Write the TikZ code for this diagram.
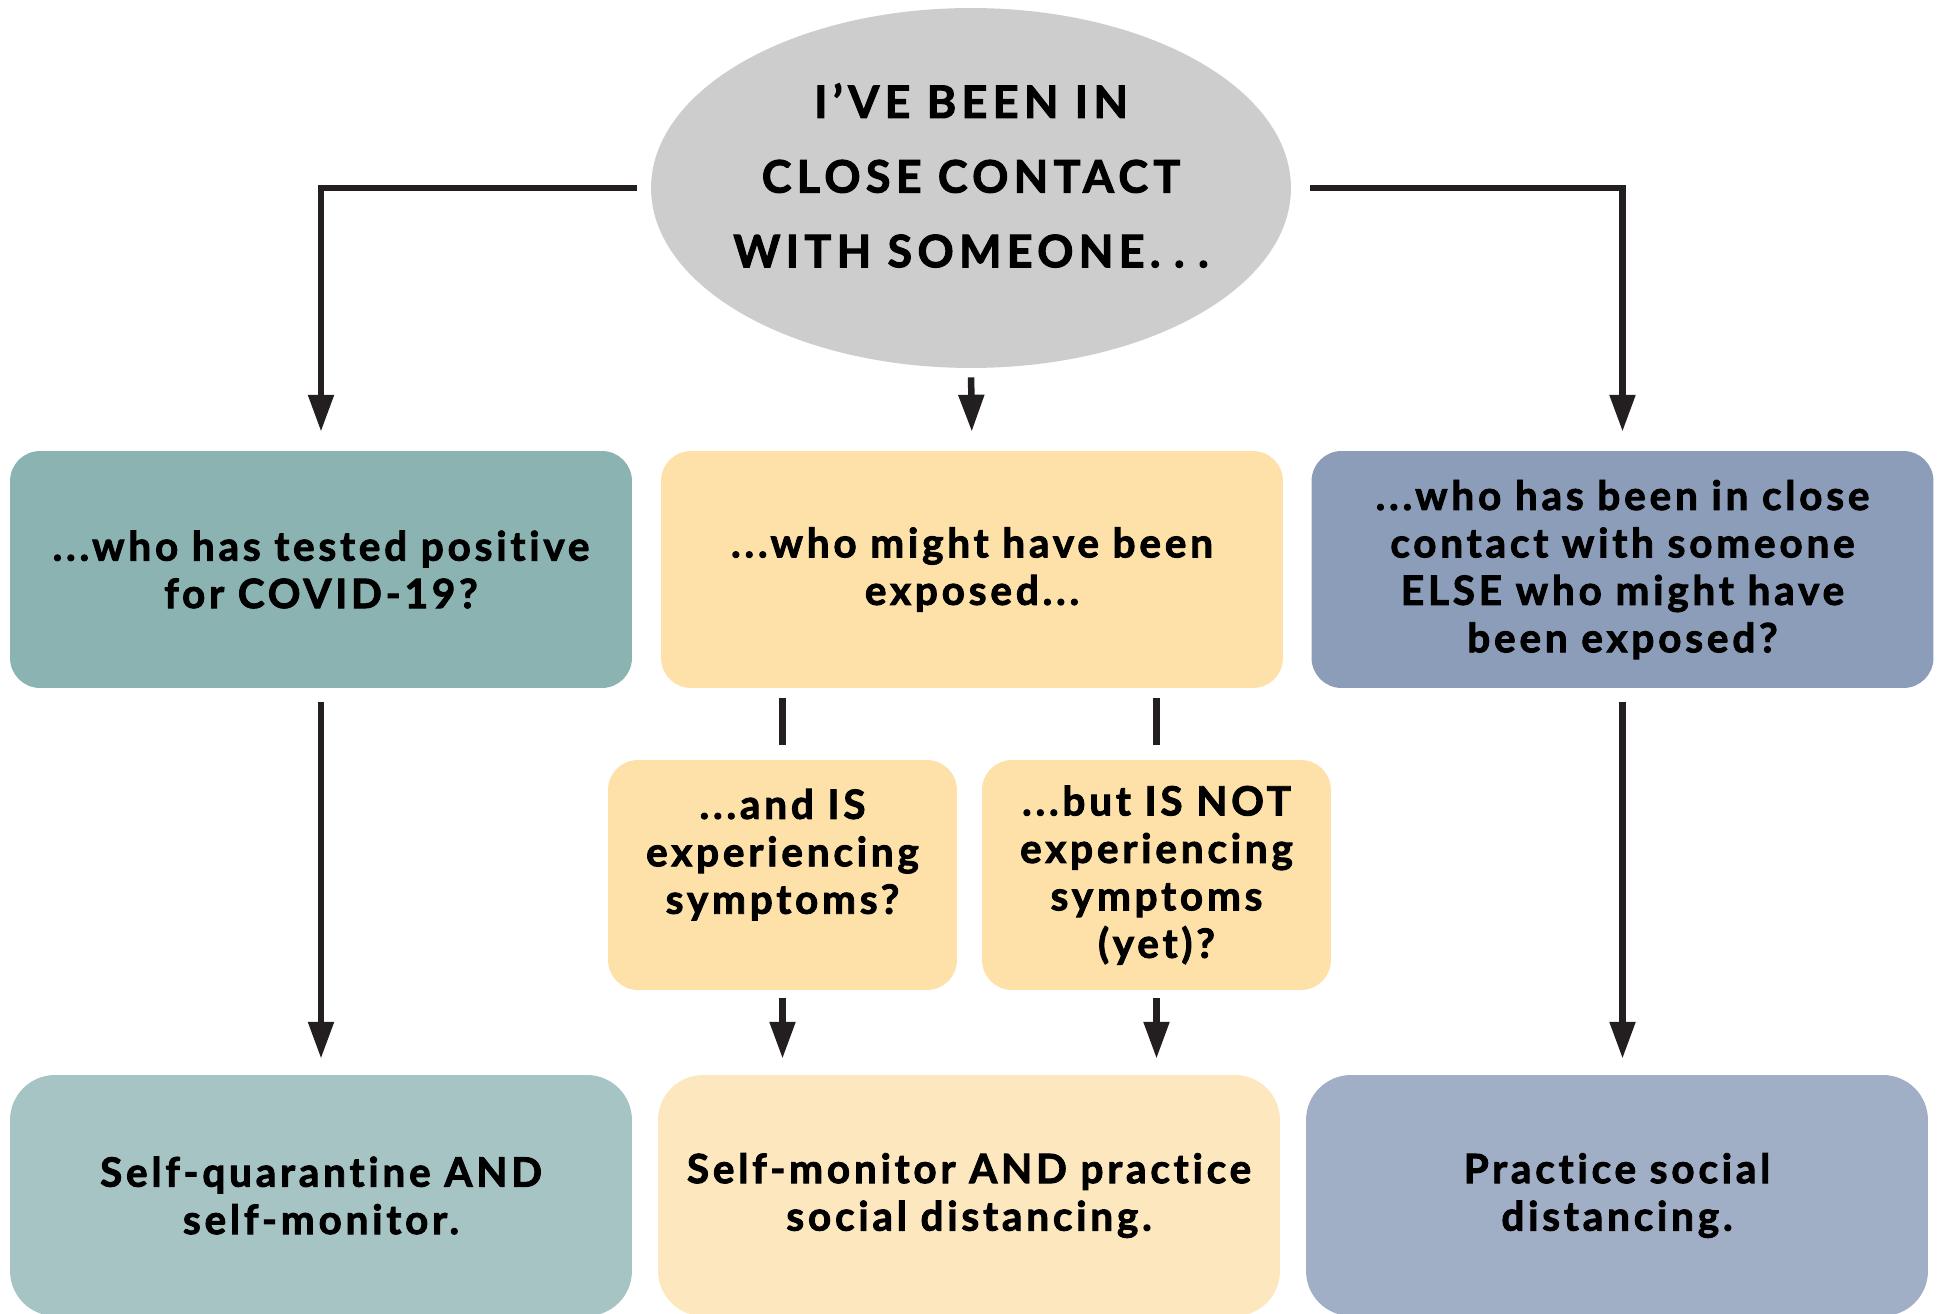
\documentclass[tikz,border=0pt]{standalone}
\usepackage{fontspec}
\setmainfont{Lato}[BoldFeatures={FakeBold=2.2}]
\newfontfamily\capsfont{Lato}[LetterSpace=12,Ligatures=NoCommon,BoldFeatures={FakeBold=2.2}]
\newfontfamily\boxfont{Lato}[LetterSpace=9.5,Ligatures=NoCommon,BoldFeatures={FakeBold=2.2}]
\usetikzlibrary{arrows.meta}
\usetikzlibrary{shapes.geometric}

\definecolor{ellgray}{HTML}{CDCDCD}
\definecolor{tealtop}{HTML}{8AB3B1}
\definecolor{tealbot}{HTML}{A5C4C3}
\definecolor{sandtop}{HTML}{FDE1A9}
\definecolor{sandbot}{HTML}{FDE7BE}
\definecolor{bluetop}{HTML}{8C9DB9}
\definecolor{bluebot}{HTML}{A0AEC6}
\definecolor{ink}{HTML}{231F20}

\tikzset{
  qbox/.style={rectangle, rounded corners=0.6cm, minimum width=12.44cm,
    minimum height=4.74cm, align=center, inner sep=0pt,
    font=\boxfont\bfseries\fontsize{23}{27}\selectfont},
  subbox/.style={qbox, minimum width=6.98cm, minimum height=4.6cm},
  actbox/.style={qbox, rounded corners=0.9cm, minimum height=4.82cm},
  flow/.style={draw=ink, line width=3.7pt},
  flowarrow/.style={flow, -{Triangle[length=21pt,width=14pt]}},
}

\begin{document}
\begin{tikzpicture}[x=0.02cm, y=-0.02cm]
  \useasboundingbox [fill=white] (0,0) rectangle (1947,1314);

  \node [ellipse, fill=ellgray, minimum width=12.8cm, minimum height=7.2cm,
    inner sep=0pt] (start) at (971,188) {};
  \node [align=center, font=\capsfont\bfseries\fontsize{25.5}{42.5}\selectfont]
    (starttext) at ([yshift=0.25cm]start.center)
    {I’VE BEEN IN\\CLOSE CONTACT\\WITH SOMEONE.\hspace{0.3em}.\hspace{0.3em}.};

  % first row
  \node [qbox, fill=tealtop] (positive) at (321,569.5)
    {...who has tested positive\\for COVID-19?};
  \node [qbox, fill=sandtop] (exposed) at (972,569.5)
    {...who might have been\\exposed...};
  \node [qbox, fill=bluetop] (else) at (1622.5,569.5)
    {...who has been in close\\contact with someone\\ELSE who might have\\been exposed?};

  % second row
  \node [subbox, fill=sandtop] (sick) at (782.5,875)
    {...and IS\\experiencing\\symptoms?\\\mbox{}};
  \node [subbox, fill=sandtop] (healthy) at (1156.5,875)
    {...but IS NOT\\experiencing\\symptoms\\(yet)?};

  % actions
  \node [actbox, fill=tealbot] (quarantine) at (321,1195.5)
    {Self-quarantine AND\\self-monitor.};
  \node [actbox, fill=sandbot] (monitor) at (969,1195.5)
    {Self-monitor AND practice\\social distancing.};
  \node [actbox, fill=bluebot] (distance) at (1617,1195.5)
    {Practice social\\distancing.};

  \coordinate (lstart) at ([xshift=-0.28cm]start.west);
  \coordinate (rstart) at ([xshift=0.38cm]start.east);

  \draw [flowarrow, shorten >=0.38cm] (lstart) -| (positive.north);
  \draw [flowarrow, shorten >=0.38cm] (rstart) -| (else.north);
  \draw [flowarrow, shorten <=0.18cm, shorten >=0.38cm] (start.south) -- (exposed.north);

  \draw [flowarrow, shorten <=0.28cm, shorten >=0.32cm] (positive.south) -- (quarantine.north);
  \draw [flowarrow, shorten <=0.28cm, shorten >=0.32cm] (else.south) -- (else.south |- distance.north);

  \draw [flow, shorten <=0.2cm, shorten >=0.3cm] (exposed.south -| sick.north) -- (sick.north);
  \draw [flow, shorten <=0.2cm, shorten >=0.3cm] (exposed.south -| healthy.north) -- (healthy.north);

  \draw [flowarrow, shorten <=0.16cm, shorten >=0.32cm] (sick.south) -- (sick.south |- monitor.north);
  \draw [flowarrow, shorten <=0.16cm, shorten >=0.32cm] (healthy.south) -- (healthy.south |- monitor.north);
\end{tikzpicture}
\end{document}
